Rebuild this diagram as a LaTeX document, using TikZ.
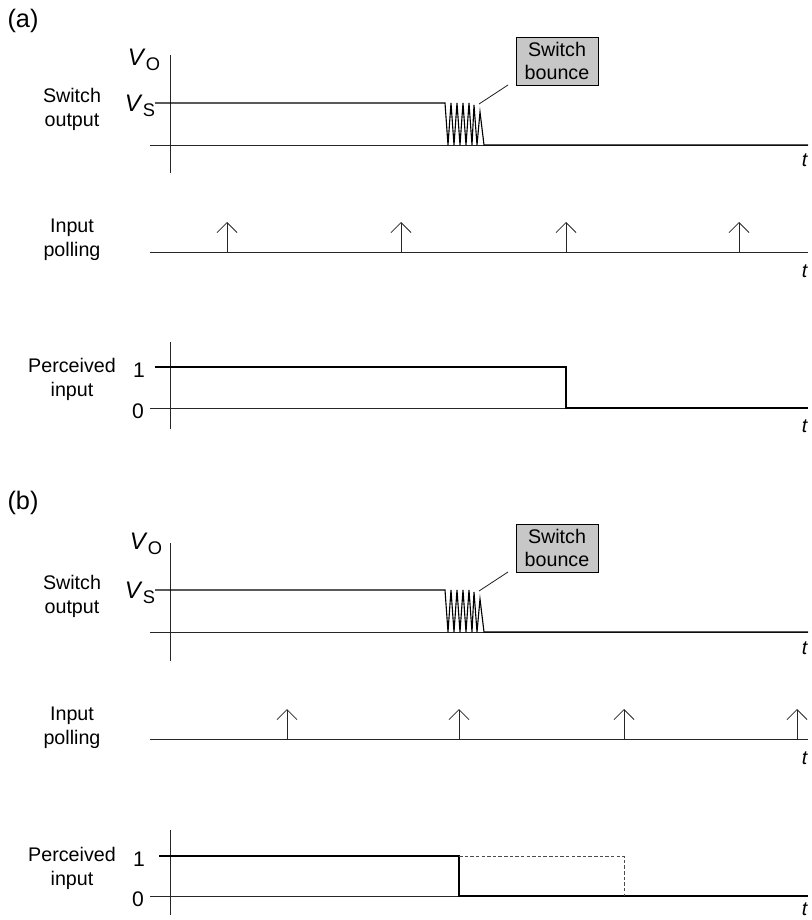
\documentclass[tikz,border=0pt]{standalone}
\usepackage{fontspec}
\setmainfont{Liberation Sans}
\usetikzlibrary{arrows.meta, positioning}
\newcommand{\volt}[1]{{\fontsize{17}{17}\selectfont\textit{V}}\kern0.2pt\raisebox{-0.5ex}{\fontsize{13}{13}\selectfont #1}}

\begin{document}
\begin{tikzpicture}[x=0.025cm, y=-0.025cm,
        lbl/.style={align=center, font=\fontsize{14}{17}\selectfont, inner sep=0pt},
        ax/.style={line width=0.6pt, black!85},
        sig/.style={line width=0.8pt, black},
        poll/.style={line width=0.6pt, black!85, -{Straight Barb[length=0.25cm, width=0.5cm]}},
        bubble/.style={rectangle, draw, fill=black!22, line width=0.6pt, minimum width=2.05cm, minimum height=1.2cm, inner sep=1pt, align=center, font=\fontsize{14}{17}\selectfont}]

        \useasboundingbox (0,0) rectangle (811,920);

        % Panel (a)
        \node[lbl, font=\fontsize{18}{18}\selectfont] (pa) at (23,21) {(a)};

        % Switch output (a)
        \node[lbl] (swa) at (72,109) {Switch\\output};
        \node[lbl] (voa) at (144,60) {\volt{O}};
        \node[lbl] (vsa) at (140,106) {\volt{S}};
        \node[lbl] (ta1) at (805,160) {\textit{t}};
        \draw[ax] (170,55) -- (170,173);
        \draw[ax] (150,145) -- (808,145);
        \draw[sig] (155,103) -- (445,103) -- (448,145) -- (451,103) -- (454,145) -- (457,103)
            -- (460,145) -- (463,103) -- (466,145) -- (469,103) -- (472,145) -- (474,105)
            -- (477,145) -- (480,112) -- (484,145) -- (808,145);
        \node[bubble] (bnca) at (557,61) {Switch\\bounce};
        \coordinate (lda) at (479,104);
        \coordinate (lea) at (508,85);
        \draw[ax] (lda) -- (lea);

        % Input polling (a)
        \node[lbl] (ipa) at (72,240) {Input\\polling};
        \node[lbl] (ta2) at (805,271) {\textit{t}};
        \draw[ax] (150,252) -- (808,252);
        \foreach \x in {227,401,566,739}
            \draw[poll] (\x,252) -- (\x,222);

        % Perceived input (a)
        \node[lbl] (pia) at (72,379) {Perceived\\input};
        \node[lbl, font=\fontsize{15}{17}\selectfont] (oa) at (139,370) {1};
        \node[lbl, font=\fontsize{15}{17}\selectfont] (za) at (138,411) {0};
        \node[lbl] (ta3) at (805,426) {\textit{t}};
        \draw[ax] (170,342) -- (170,429);
        \draw[ax] (150,408) -- (808,408);
        \draw[sig] (155,367) -- (566,367) -- (566,408) -- (808,408);

        % Panel (b)
        \node[lbl, font=\fontsize{18}{18}\selectfont] (pb) at (23,503) {(b)};

        % Switch output (b)
        \node[lbl] (swb) at (72,596) {Switch\\output};
        \node[lbl] (vob) at (146,544) {\volt{O}};
        \node[lbl] (vsb) at (140,593) {\volt{S}};
        \node[lbl] (tb1) at (805,648) {\textit{t}};
        \draw[ax] (170,543) -- (170,661);
        \draw[ax] (150,632) -- (808,632);
        \draw[sig] (155,590) -- (445,590) -- (448,632) -- (451,590) -- (454,632) -- (457,590)
            -- (460,632) -- (463,590) -- (466,632) -- (469,590) -- (472,632) -- (474,592)
            -- (477,632) -- (480,599) -- (484,632) -- (808,632);
        \node[bubble] (bncb) at (557,548) {Switch\\bounce};
        \coordinate (ldb) at (479,591);
        \coordinate (leb) at (508,572);
        \draw[ax] (ldb) -- (leb);

        % Input polling (b)
        \node[lbl] (ipb) at (72,728) {Input\\polling};
        \node[lbl] (tb2) at (805,758) {\textit{t}};
        \draw[ax] (150,739) -- (808,739);
        \foreach \x in {287,459,624,797}
            \draw[poll] (\x,739) -- (\x,709);

        % Perceived input (b)
        \node[lbl] (pib) at (72,868) {Perceived\\input};
        \node[lbl, font=\fontsize{15}{17}\selectfont] (ob) at (139,859) {1};
        \node[lbl, font=\fontsize{15}{17}\selectfont] (zb) at (138,899) {0};
        \node[lbl] (tb3) at (805,909) {\textit{t}};
        \draw[ax] (170,830) -- (170,915);
        \draw[ax] (150,896) -- (808,896);
        \draw[sig] (159,856) -- (459,856) -- (459,896) -- (808,896);
        \draw[ax, black!70, dashed, dash pattern=on 2.5pt off 1.5pt] (459,856) -- (624,856) -- (624,896);
    \end{tikzpicture}
\end{document}
